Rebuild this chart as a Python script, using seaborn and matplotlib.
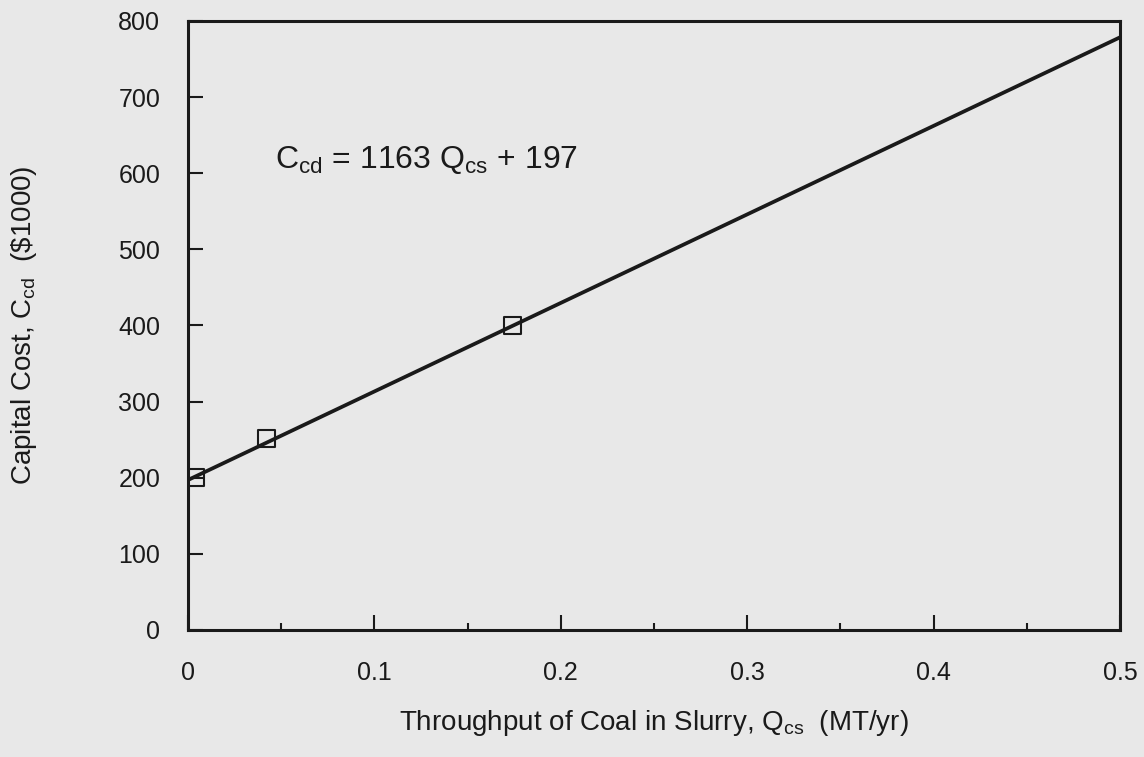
import matplotlib
matplotlib.use("Agg")
import matplotlib.pyplot as plt
import seaborn as sns
import pandas as pd
from matplotlib.ticker import MultipleLocator

# Data
point_q = [0.004, 0.042, 0.174]        # Throughput of coal in slurry (MT/yr)
point_cost = [200, 251, 400]           # Capital cost ($1000)
line_q = [0.0, 0.5]                    # fitted line endpoints
line_cost = [197, 778.5]
x_ticks = [0, 0.1, 0.2, 0.3, 0.4, 0.5]
x_tick_labels = ["0", "0.1", "0.2", "0.3", "0.4", "0.5"]
y_ticks = [0, 100, 200, 300, 400, 500, 600, 700, 800]

sns.set_theme(style="ticks")
plt.rcParams["font.family"] = ["Liberation Sans", "DejaVu Sans"]
plt.rcParams["mathtext.fontset"] = "custom"
plt.rcParams["mathtext.rm"] = "Liberation Sans"
plt.rcParams["mathtext.it"] = "Liberation Sans"
plt.rcParams["mathtext.bf"] = "Liberation Sans"

paper = "#e8e8e8"
ink = "#1a1a1a"

fig = plt.figure(figsize=(11.44, 7.57), dpi=100, facecolor=paper)
ax = fig.add_axes([0.1643, 0.1678, 0.8147, 0.8045])
ax.set_facecolor(paper)

df_line = pd.DataFrame({"q": line_q, "c": line_cost})
df_pts = pd.DataFrame({"q": point_q, "c": point_cost})

sns.lineplot(data=df_line, x="q", y="c", ax=ax, color=ink, linewidth=2.7)
sns.scatterplot(data=df_pts, x="q", y="c", ax=ax, marker="s", s=150,
                facecolors="none", edgecolor=ink, linewidth=1.5, zorder=3)

ax.set_xlim(0, 0.5)
ax.set_ylim(0, 800)
ax.set_xticks(x_ticks)
ax.set_xticklabels(x_tick_labels)
ax.xaxis.set_minor_locator(MultipleLocator(0.05))
ax.set_yticks(y_ticks)

for s in ax.spines.values():
    s.set_linewidth(2.2)
    s.set_color(ink)

ax.tick_params(axis="x", which="major", direction="in", length=11, width=1.5,
               color=ink, labelsize=18, pad=22, labelcolor=ink)
ax.tick_params(axis="x", which="minor", direction="in", length=5, width=1.5,
               color=ink)
ax.tick_params(axis="y", which="major", direction="in", length=11, width=1.5,
               color=ink, labelsize=18, pad=20, labelcolor=ink)

ax.set_xlabel(r"Throughput of Coal in Slurry, Q$_\mathrm{cs}$  (MT/yr)",
              fontsize=20, color=ink)
ax.xaxis.set_label_coords(0.5, -0.128)
ax.set_ylabel(r"Capital Cost, C$_\mathrm{cd}$  (\$1000)",
              fontsize=20, color=ink)
ax.yaxis.set_label_coords(-0.160, 0.5)

ax.text(0.093, 0.759, r"C$_\mathrm{cd}$ = 1163 Q$_\mathrm{cs}$ + 197",
        transform=ax.transAxes, fontsize=23, color=ink, va="baseline", ha="left")

fig.savefig("out.png", dpi=100, facecolor=paper)
